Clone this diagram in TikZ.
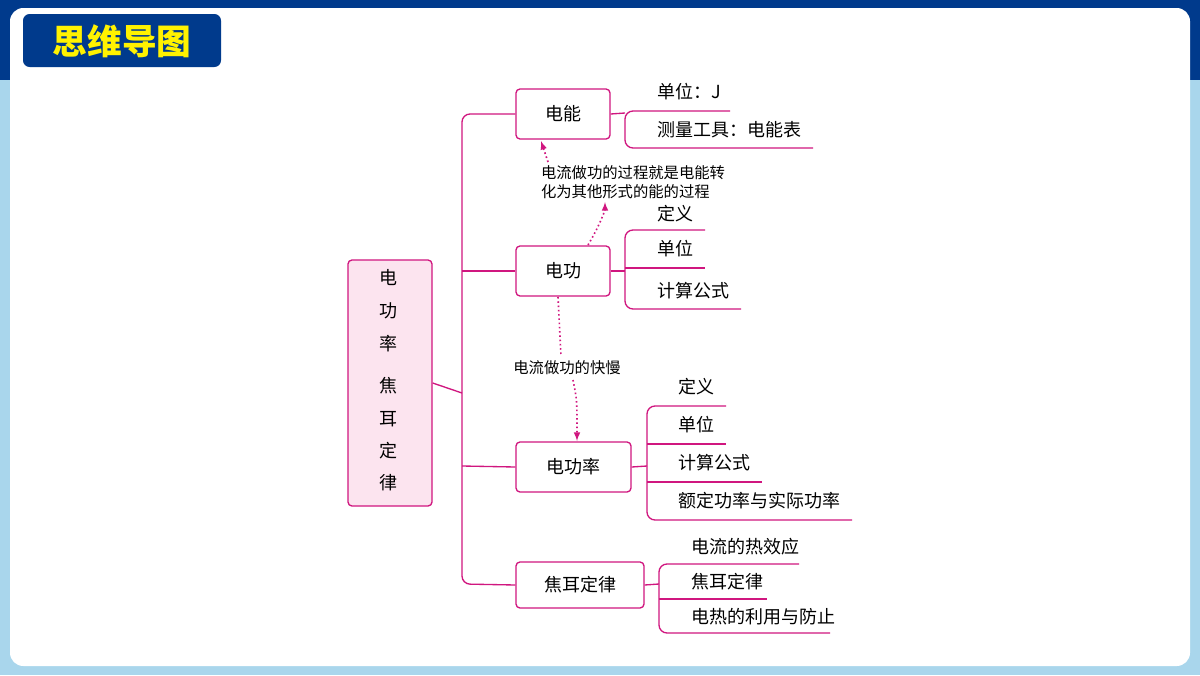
\documentclass[tikz,border=0pt]{standalone}
\usepackage{fontspec}
\setmainfont{Noto Sans CJK SC}
\newfontfamily\cjkb[BoldFont={* Bold}]{Noto Sans CJK SC}
\definecolor{mag}{HTML}{D0167F}
\definecolor{navy}{HTML}{003A8C}
\definecolor{lblue}{HTML}{A9D6EC}
\definecolor{pinkf}{HTML}{FCE4EF}
\begin{document}
\begin{tikzpicture}[x=0.75pt,y=-0.75pt,
 box/.style={draw=mag,line width=1pt,rounded corners=3pt},
 ln/.style={draw=mag,line width=1pt,rounded corners=6pt},
 t/.style={anchor=west,font=\fontsize{13.5}{15}\selectfont,inner sep=0pt},
 bt/.style={font=\fontsize{13.5}{15}\selectfont},
 lab/.style={font=\fontsize{11.5}{14}\selectfont,align=left},
 dt/.style={draw=mag,line width=1.2pt,dotted,-latex}]
\useasboundingbox (0,0) rectangle (1200,675);
\fill[lblue] (0,0) rectangle (1200,675);
\fill[navy] (0,0) rectangle (1200,80);
\fill[white,rounded corners=10pt] (10,8) rectangle (1190,666);
\node[fill=navy,rounded corners=5pt,minimum width=198\pgflinewidth,inner sep=0pt] (title) at (122,40.5) {};
\fill[navy,rounded corners=5pt] (23,14) rectangle (221,67);
\node[text=yellow,font=\fontsize{26}{28}\selectfont\bfseries] (tt) at (122,41) {思维导图};
% root
\node[box,fill=pinkf,minimum width=84*0.75pt,minimum height=246*0.75pt] (root) at (390,383) {};
\foreach \c/\y [count=\i] in {电/278,功/311,率/344,焦/386,耳/419,定/451,律/483}
 \node[bt] (r\i) at (388,\y) {\c};
% boxes
\node[box,minimum width=94*0.75pt,minimum height=50*0.75pt,bt] (a) at (563,114) {电能};
\node[box,minimum width=94*0.75pt,minimum height=50*0.75pt,bt] (b) at (563,271) {电功};
\node[box,minimum width=115*0.75pt,minimum height=50*0.75pt,bt] (c) at (573.5,467) {电功率};
\node[box,minimum width=128*0.75pt,minimum height=46*0.75pt,bt] (d) at (580,585) {焦耳定律};
% trunk
\draw[mag,line width=1pt] (root.east) -- (462,393);
\draw[ln] (a.west) -- (462,114) -- (462,584) -- (d.west);
\draw[mag,line width=1pt] (462,271) -- (b.west);
\draw[mag,line width=1pt] (462,466) -- (c.west);
% 电能
\draw[mag,line width=1pt] (a.east) -- (625,113);
\draw[ln] (730,111) -- (625,111) -- (625,148) -- (813,148);
\node[t] (a1) at (657,92) {单位：J};
\node[t] (a2) at (657,130) {测量工具：电能表};
% 电功
\draw[mag,line width=1pt] (b.east) -- (625,271);
\draw[ln] (705,230) -- (625,230) -- (625,309) -- (741,309);
\draw[mag,line width=1pt] (625,268) -- (705,268);
\node[t] (b1) at (657,214) {定义};
\node[t] (b2) at (657,249) {单位};
\node[t] (b3) at (657,291) {计算公式};
% 电功率
\draw[mag,line width=1pt] (c.east) -- (647,466);
\draw[ln] (726,406) -- (647,406) -- (647,520) -- (852,520);
\draw[mag,line width=1pt] (647,444) -- (726,444);
\draw[mag,line width=1pt] (647,482) -- (762,482);
\node[t] (c1) at (678,387) {定义};
\node[t] (c2) at (678,425) {单位};
\node[t] (c3) at (678,463) {计算公式};
\node[t] (c4) at (678,501) {额定功率与实际功率};
% 焦耳定律
\draw[mag,line width=1pt] (d.east) -- (659,584);
\draw[ln] (799,564) -- (659,564) -- (659,633) -- (830,633);
\draw[mag,line width=1pt] (659,599) -- (767,599);
\node[t] (d1) at (691,547) {电流的热效应};
\node[t] (d2) at (691,582) {焦耳定律};
\node[t] (d3) at (691,617) {电热的利用与防止};
% dotted arrows
\node[lab] (l1) at (633,182) {电流做功的过程就是电能转\\化为其他形式的能的过程};
\node[lab] (l2) at (567,368) {电流做功的快慢};
\draw[dt] (588,245) .. controls (600,225) and (605,210) .. (605,202);
\draw[dt] (548,162) -- (541,141);
\draw[dt,-] (558,297) -- (561,356);
\draw[dt] (573,380) .. controls (577,400) .. (577,441);
\end{tikzpicture}
\end{document}
